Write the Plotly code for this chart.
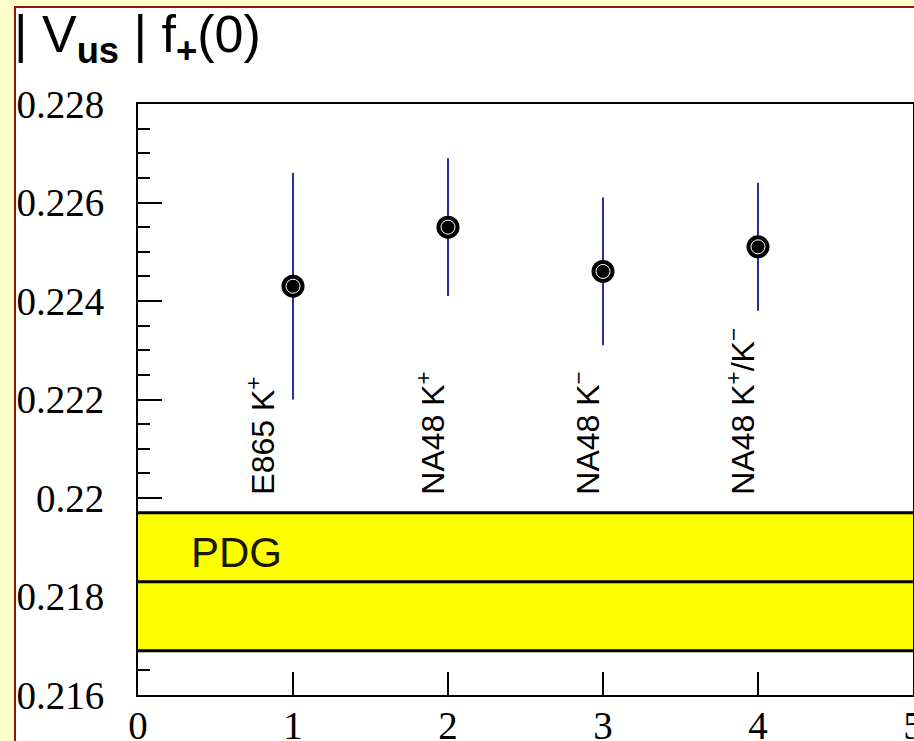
import plotly.graph_objects as go

# ---- data ----
x_pos = [1, 2, 3, 4]
labels = ["E865 K<sup>+</sup>", "NA48 K<sup>+</sup>", "NA48 K<sup>−</sup>",
          "NA48 K<sup>+</sup>/K<sup>−</sup>"]
values = [0.2243, 0.2255, 0.2246, 0.2251]
errors = [0.0023, 0.0014, 0.0015, 0.0013]
pdg_value = 0.2183
pdg_error = 0.0014
y_tickvals = [0.216, 0.218, 0.220, 0.222, 0.224, 0.226, 0.228]
y_ticktext = ["0.216", "0.218", "0.22", "0.222", "0.224", "0.226", "0.228"]
x_tickvals = [0, 1, 2, 3, 4, 5]
x_ticktext = ["0", "1", "2", "3", "4", "5"]

W, H = 914, 741
L, R, T, B = 138, 1, 104, 46
pw, ph = W - L - R, H - T - B


def px_to_paper_x(px):
    return (px - L) / pw


def px_to_paper_y(py):
    return (H - B - py) / ph


fig = go.Figure()

fig.add_trace(go.Scatter(
    x=x_pos, y=values, mode="markers",
    marker=dict(symbol="circle", size=23, color="black"),
    error_y=dict(type="data", array=errors, visible=True, color="#2B2B9B",
                 thickness=2, width=0),
    showlegend=False, hoverinfo="skip"))
fig.add_trace(go.Scatter(
    x=x_pos, y=values, mode="markers",
    marker=dict(symbol="circle-open", size=14, color="white",
                line=dict(color="white", width=1)),
    showlegend=False, hoverinfo="skip"))

shapes = [
    # white canvas with dark red frame
    dict(type="rect", xref="paper", yref="paper",
         x0=px_to_paper_x(15), x1=px_to_paper_x(960),
         y0=px_to_paper_y(780), y1=px_to_paper_y(7),
         fillcolor="white", line=dict(color="#9A1010", width=2), layer="below"),
    # PDG band
    dict(type="rect", xref="x", yref="y", x0=0, x1=5,
         y0=pdg_value - pdg_error, y1=pdg_value + pdg_error,
         fillcolor="#FFFF00", line=dict(width=0), layer="above"),
    dict(type="line", xref="x", yref="y", x0=0, x1=5,
         y0=pdg_value + pdg_error, y1=pdg_value + pdg_error,
         line=dict(color="black", width=3), layer="above"),
    dict(type="line", xref="x", yref="y", x0=0, x1=5,
         y0=pdg_value, y1=pdg_value,
         line=dict(color="black", width=3), layer="above"),
    dict(type="line", xref="x", yref="y", x0=0, x1=5,
         y0=pdg_value - pdg_error, y1=pdg_value - pdg_error,
         line=dict(color="black", width=3), layer="above"),
]

annotations = []
label_shift = [0.07, -0.03, -0.03, -0.03]
for xv, lab, sh in zip(x_pos, labels, label_shift):
    annotations.append(dict(
        x=xv - sh, y=0.22003, xref="x", yref="y", text=lab, textangle=-90,
        xanchor="right", yanchor="bottom", showarrow=False,
        font=dict(family="Liberation Sans, Arial", size=32, color="black")))

annotations.append(dict(
    x=0.33, y=pdg_value + 0.0006, xref="x", yref="y", text="PDG",
    xanchor="left", yanchor="middle", showarrow=False,
    font=dict(family="Liberation Sans, Arial", size=42, color="#1a1a00")))

annotations.append(dict(
    x=px_to_paper_x(12), y=px_to_paper_y(3), xref="paper", yref="paper",
    text="| V<sub><b>us</b></sub> | f<sub><b>+</b></sub>(0)",
    xanchor="left", yanchor="top", showarrow=False,
    font=dict(family="Liberation Sans, Arial", size=52, color="black")))

fig.update_layout(
    width=W, height=H,
    margin=dict(l=L, r=R, t=T, b=B, pad=0, autoexpand=False),
    paper_bgcolor="#FFFFCC", plot_bgcolor="white",
    shapes=shapes, annotations=annotations,
    xaxis=dict(range=[0, 5], tickvals=x_tickvals, ticktext=x_ticktext,
               ticks="inside", ticklen=23, tickwidth=2, tickcolor="black",
               showline=True, linecolor="black", linewidth=2, mirror=True,
               showgrid=False, zeroline=False, ticklabelstandoff=-5,
               automargin=False, ticklabeloverflow="allow",
               tickfont=dict(family="Liberation Serif, Times New Roman",
                             size=39, color="black")),
    yaxis=dict(range=[0.216, 0.228], tickvals=y_tickvals, ticktext=y_ticktext,
               ticks="inside", ticklen=24, tickwidth=2, tickcolor="black",
               minor=dict(ticks="inside", ticklen=12, dtick=0.0005,
                          tick0=0.216, tickwidth=2, tickcolor="black",
                          showgrid=False),
               showline=True, linecolor="black", linewidth=2, mirror=True,
               showgrid=False, zeroline=False, ticklabelstandoff=24,
               automargin=False, ticklabeloverflow="allow",
               tickfont=dict(family="Liberation Serif, Times New Roman",
                             size=39, color="black")),
)

fig.write_html(
    "out.html",
    config={"displayModeBar": False},
    post_script="document.body.style.margin='0px';"
                "document.body.style.overflow='hidden';")
